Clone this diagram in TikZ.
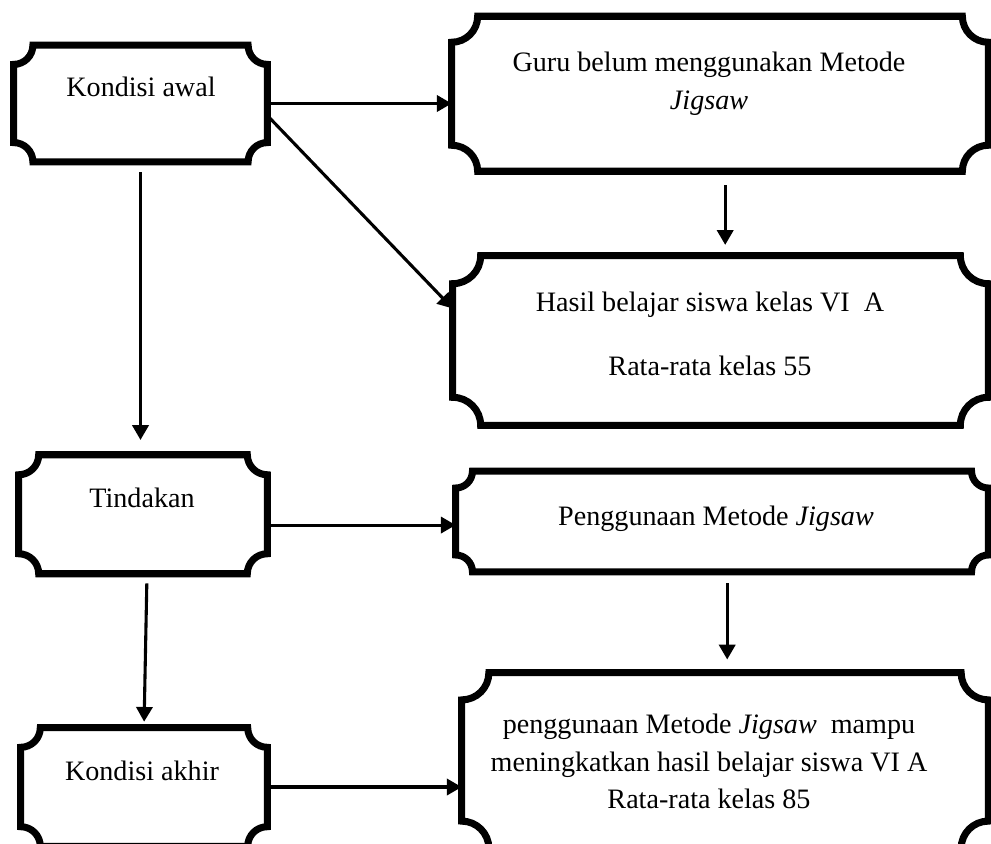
\documentclass[tikz,border=0pt]{standalone}
\usepackage{fontspec}
\setmainfont{Liberation Serif}
\usetikzlibrary{positioning}
\usetikzlibrary{arrows.meta}
\tikzset{>={Triangle[length=10.5pt,width=11.5pt]}}
\tikzset{arr/.style={->,line width=2.2pt}}
\tikzset{plq/.style={line width=5pt}}
\tikzset{box/.style 2 args={rectangle,inner sep=0pt,minimum width=#1,minimum height=#2}}
\tikzset{txt/.style={align=center,inner sep=0pt,anchor=base,font=\fontsize{20}{26.5}\selectfont}}

\newcommand{\plaque}[2]{%
  \draw[plq] ([yshift=-#2]#1.north west) arc[start angle=270,end angle=360,radius=#2]
    -- ([xshift=-#2]#1.north east) arc[start angle=180,end angle=270,radius=#2]
    -- ([yshift=#2]#1.south east) arc[start angle=90,end angle=180,radius=#2]
    -- ([xshift=#2]#1.south west) arc[start angle=0,end angle=90,radius=#2]
    -- cycle;}

\begin{document}
\begin{tikzpicture}[x=0.025cm,y=-0.025cm]
        \useasboundingbox (0,0) rectangle (991,843);
        \clip (0,0) rectangle (991,843);

        % boxes
        \node[box={6.325cm}{2.9cm}] (awal) at (140.5,103.5) {};
        \node[box={13.4cm}{3.86cm}] (guru) at (720,93.75) {};
        \node[box={13.375cm}{4.225cm}] (hasil) at (720.5,340.5) {};
        \node[box={6.2cm}{2.96cm}] (tind) at (143,514.25) {};
        \node[box={13.3cm}{2.5cm}] (pakai) at (722,521.5) {};
        \node[box={13.15cm}{4.375cm}] (mampu) at (725,760.5) {};
        \node[box={6.15cm}{2.95cm}] (akhir) at (144,787) {};

        \plaque{awal}{0.48cm}
        \plaque{guru}{0.65cm}
        \plaque{hasil}{0.7cm}
        \plaque{tind}{0.5cm}
        \plaque{pakai}{0.42cm}
        \plaque{mampu}{0.68cm}
        \plaque{akhir}{0.49cm}

        % texts
        \node[txt] (awal') at (141,96) {Kondisi awal};
        \node[txt, anchor=north] (guru') at (709,52) {Guru belum menggunakan Metode\\\textit{Jigsaw}};
        \node[txt, anchor=north] (hasil') at (710,292) {Hasil belajar siswa kelas VI\ \ A\\[0.65cm]Rata-rata kelas 55};
        \node[txt] (tind') at (142,507) {Tindakan};
        \node[txt] (pakai') at (716,525) {Penggunaan Metode \textit{Jigsaw}};
        \node[txt, anchor=north] (mampu') at (709,714) {penggunaan Metode \textit{Jigsaw}\ \ mampu\\meningkatkan hasil belajar siswa VI A\\Rata-rata kelas 85};
        \node[txt] (akhir') at (142,780) {Kondisi akhir};

        % arrows
        \draw[arr] (awal.east) -- (awal.east -| guru.west);
        \draw[arr] ([yshift=-0.3cm]awal.east) -- ([yshift=0.8cm]hasil.west);
        \draw[arr, shorten <=0.26cm, shorten >=0.37cm] (awal.south) -- (awal.south |- tind.north);
        \draw[arr, shorten <=0.35cm, shorten >=0.27cm] ([xshift=0.13cm]guru.south) -- ([xshift=0.13cm]guru.south |- hasil.north);
        \draw[arr] ([yshift=-0.27cm]tind.east) -- ([yshift=-0.27cm]tind.east -| pakai.west);
        \draw[arr, shorten <=0.24cm, shorten >=0.15cm] ([xshift=0.1cm]tind.south) -- (akhir.north);
        \draw[arr, shorten <=0.29cm, shorten >=0.33cm] ([xshift=0.13cm]pakai.south) -- ([xshift=0.13cm]pakai.south |- mampu.north);
        \draw[arr] (akhir.east) -- (akhir.east -| mampu.west);
\end{tikzpicture}
\end{document}
